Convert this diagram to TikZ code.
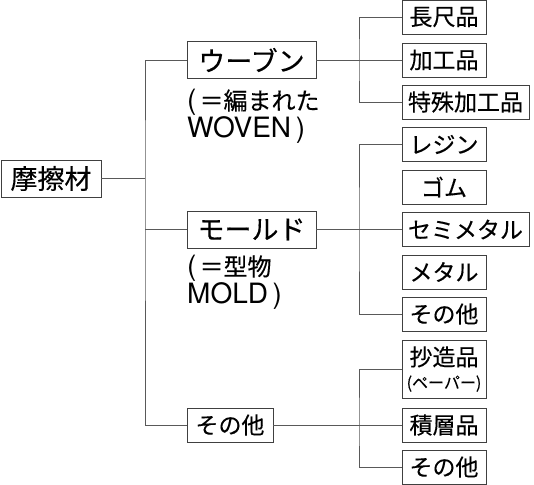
\documentclass[tikz,border=0pt]{standalone}
\usepackage{fontspec}
\setmainfont{Noto Sans CJK JP}[FakeBold=0.25]
\newfontfamily\latinfont{TeX Gyre Heros}
\newcommand\lat[1]{{\latinfont\fontsize{28}{28}\selectfont #1}}
\tikzset{
  box/.style={draw=black!75, line width=0.9pt, inner sep=0pt, minimum height=34pt, font=\fontsize{23}{25}\selectfont},
  bigbox/.style={box, minimum height=37pt, font=\fontsize{27}{29}\selectfont},
  link/.style={draw=black!65, line width=0.8pt},
  note/.style={anchor=north west, inner sep=0pt, align=left, font=\fontsize{24}{26}\selectfont}
}
\begin{document}
\begin{tikzpicture}[x=1pt, y=-1pt]
   \useasboundingbox (0,0) rectangle (534,484);

   % Root
   \node[bigbox, minimum width=100pt] (root) at (51,178.5) {摩擦材};

   % First level
   \node[bigbox, minimum width=129pt] (wov) at (251.5,60) {ウーブン};
   \node[note] (wovnote) at (187,89) {\lat{(}\hspace{3pt}＝編まれた\\\lat{WOVEN\,)}};
   \node[bigbox, minimum width=129pt] (mold) at (251.5,229.5) {モールド};
   \node[note] (moldnote) at (187,255) {\lat{(}\hspace{3pt}＝型物\\\lat{MOLD\,)}};
   \node[box, minimum width=86pt] (oth) at (230,425) {その他};

   % Second level - woven
   \node[box, minimum width=84pt] (cho) at (444,17) {長尺品};
   \node[box, minimum width=84pt] (kak) at (444,60) {加工品};
   \node[box, minimum width=127pt] (tok) at (465.5,102) {特殊加工品};

   % Second level - mold
   \node[box, minimum width=84pt] (res) at (444,144.5) {レジン};
   \node[box, minimum width=84pt] (gom) at (444,187) {ゴム};
   \node[box, minimum width=127pt] (semi) at (465.5,229.5) {セミメタル};
   \node[box, minimum width=84pt] (met) at (444,272) {メタル};
   \node[box, minimum width=84pt] (sono1) at (444,314) {その他};

   % Second level - other
   \node[box, minimum width=84pt, minimum height=58pt, align=center] (sho) at (444,369)
      {抄造品\\[-2pt]{\fontsize{16}{17}\selectfont (ペーパー)}};
   \node[box, minimum width=84pt] (seki) at (444,425) {積層品};
   \node[box, minimum width=84pt] (sono2) at (444,467) {その他};

   % Trunk
   \coordinate (j0) at (145,178.5);
   \draw[link] (root.east) -- (j0);
   \draw[link] (wov.west) -| (j0) |- (oth.west);
   \draw[link] (mold.west) -- (mold.west -| j0);

   % Branches
   \coordinate (j1) at (359,60);
   \coordinate (j2) at (359,229.5);
   \coordinate (j3) at (359,425);
   \draw[link] (wov.east) -- (kak.west);
   \draw[link] (cho.west) -| (j1) |- (tok.west);
   \draw[link] (mold.east) -- (semi.west);
   \draw[link] (res.west) -| (j2) |- (sono1.west);
   \draw[link] (oth.east) -- (seki.west);
   \draw[link] (sho.west) -| (j3) |- (sono2.west);
\end{tikzpicture}
\end{document}
